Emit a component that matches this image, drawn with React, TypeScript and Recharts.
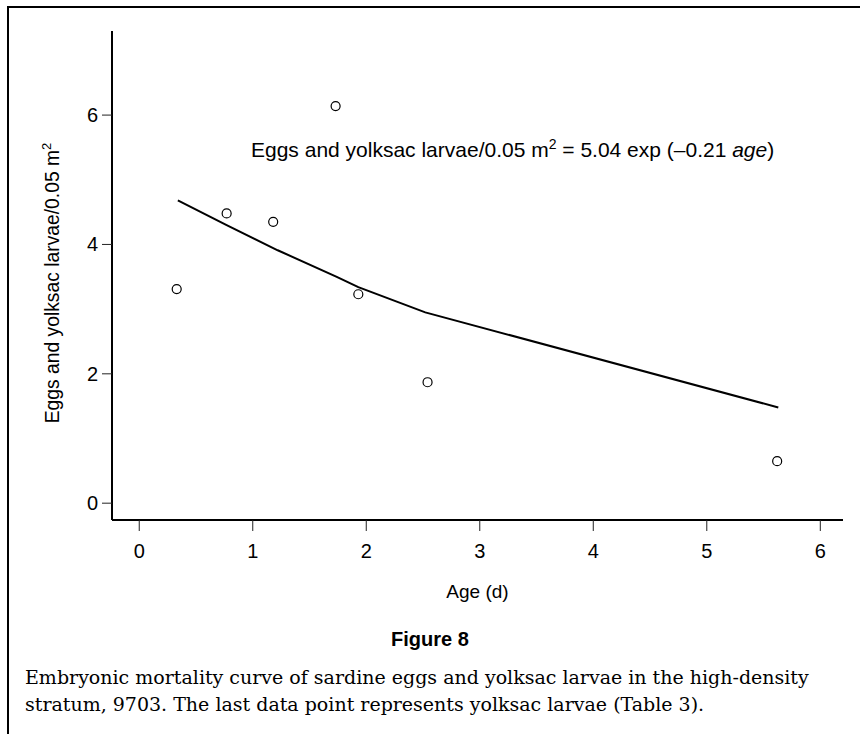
import { ScatterChart, Scatter, XAxis, YAxis } from "recharts";

// observed densities (eggs + yolksac larvae per 0.05 m2) by age in days
const obsAge = [0.33, 0.77, 1.18, 1.73, 1.93, 2.54, 5.62];
const obsDensity = [3.31, 4.48, 4.35, 6.14, 3.23, 1.87, 0.65];

// fitted curve as drawn, joined point to point
const fitAge = [0.34, 0.77, 1.22, 1.74, 1.93, 2.52, 5.63];
const fitDensity = [4.68, 4.3, 3.91, 3.5, 3.34, 2.95, 1.48];

const xTicks = [0, 1, 2, 3, 4, 5, 6];
const yTicks = [0, 2, 4, 6];

const observed = obsAge.map((x, i) => ({ x, y: obsDensity[i] }));
const fitted = fitAge.map((x, i) => ({ x, y: fitDensity[i] }));

const sans = "'Liberation Sans', Arial, Helvetica, sans-serif";

function XTick(props: any) {
  const { x, y, payload } = props;
  return (
    <text x={x} y={y} dy={14} textAnchor="middle" fontSize={20} fontFamily={sans} fill="#000">
      {payload.value}
    </text>
  );
}

function YTick(props: any) {
  const { x, y, payload } = props;
  return (
    <text x={x} y={y} dy={7} textAnchor="end" fontSize={20} fontFamily={sans} fill="#000">
      {payload.value}
    </text>
  );
}

function OpenCircle(props: any) {
  const { cx, cy } = props;
  return <circle cx={cx} cy={cy} r={4.5} fill="#fff" stroke="#000" strokeWidth={1.2} />;
}

function NoDot() {
  return <g />;
}

export default function App() {
  return (
    <div style={{ position: "absolute", left: 0, top: 0, width: 860, height: 734, background: "#fff", overflow: "hidden" }}>
      <div
        style={{
          position: "absolute",
          left: 7,
          top: 6,
          width: 870,
          height: 740,
          borderLeft: "2px solid #000",
          borderTop: "2px solid #000",
        }}
      />
      <div style={{ position: "absolute", left: 0, top: 0 }}>
        <ScatterChart width={860} height={620} margin={{ top: 31, right: 17, bottom: 40, left: 0 }}>
          <XAxis
            type="number"
            dataKey="x"
            domain={[-0.24, 6.2]}
            ticks={xTicks}
            allowDataOverflow
            height={60}
            tick={<XTick />}
            tickSize={11}
            tickMargin={13}
            axisLine={{ stroke: "#000", strokeWidth: 2 }}
            tickLine={{ stroke: "#222", strokeWidth: 1 }}
          />
          <YAxis
            type="number"
            dataKey="y"
            domain={[-0.26, 7.3]}
            ticks={yTicks}
            allowDataOverflow
            width={112}
            tick={<YTick />}
            tickSize={10}
            tickMargin={4}
            axisLine={{ stroke: "#000", strokeWidth: 2 }}
            tickLine={{ stroke: "#222", strokeWidth: 1 }}
          />
          <Scatter
            data={fitted}
            line={{ stroke: "#000", strokeWidth: 2 }}
            lineType="joint"
            shape={NoDot}
            isAnimationActive={false}
          />
          <Scatter data={observed} shape={OpenCircle} isAnimationActive={false} />
          <text x={58.5} y={283} transform="rotate(-90 58.5 283)" textAnchor="middle" fontSize={19.3} fontFamily={sans} fill="#000">
            Eggs and yolksac larvae/0.05 m<tspan dy={-8} fontSize={13}>2</tspan>
          </text>
          <text x={477.5} y={598} textAnchor="middle" fontSize={19} fontFamily={sans} fill="#000">
            Age (d)
          </text>
          <text x={251} y={157} fontSize={21} fontFamily={sans} fill="#000">
            Eggs and yolksac larvae/0.05 m<tspan dy={-8} fontSize={14}>2</tspan>
            <tspan dy={8}> = 5.04 exp (–0.21 </tspan>
            <tspan fontStyle="italic">age</tspan>)
          </text>
        </ScatterChart>
      </div>
      <div
        style={{
          position: "absolute",
          left: 0,
          top: 627,
          width: 860,
          textAlign: "center",
          fontFamily: sans,
          fontWeight: "bold",
          fontSize: 20,
          lineHeight: "24px",
        }}
      >
        Figure 8
      </div>
      <div
        style={{
          position: "absolute",
          left: 25,
          top: 664,
          width: 835,
          whiteSpace: "nowrap",
          fontFamily: "'DejaVu Serif', 'Liberation Serif', serif",
          fontSize: 19,
          lineHeight: "27px",
          color: "#000",
        }}
      >
        Embryonic mortality curve of sardine eggs and yolksac larvae in the high-density
        <br />
        stratum, 9703. The last data point represents yolksac larvae (Table 3).
      </div>
    </div>
  );
}
